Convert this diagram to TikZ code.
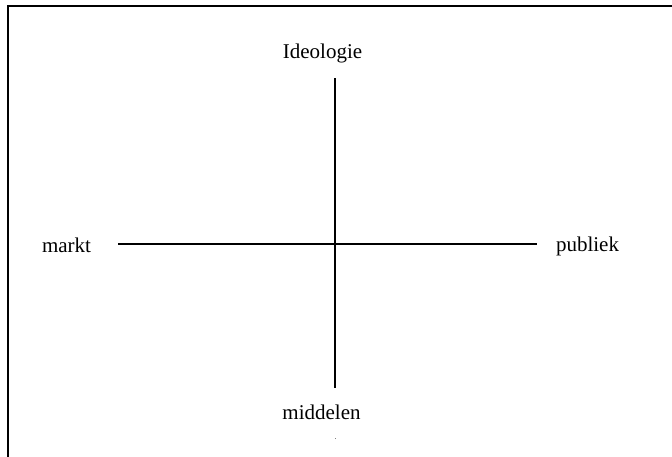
\documentclass[tikz,border=0pt]{standalone}
\usepackage{fontspec}
\setmainfont{Liberation Serif}
\begin{document}
\begin{tikzpicture}[x=1pt,y=-1pt,
  lbl/.style={anchor=base,inner sep=0pt,font=\fontsize{21}{25}\selectfont},
  axis/.style={line width=1.6pt,black},
  frame/.style={line width=1.8pt,black}]
\useasboundingbox (0,0) rectangle (672,456);
\begin{scope}
\clip (0,0) rectangle (672,456);
\draw[frame] (8,6) rectangle (690,470);
\end{scope}
\node[lbl] (ideo) at (322.5,58) {Ideologie};
\node[lbl] (midd) at (321.5,419) {middelen};
\node[lbl] (markt) at (66.5,252) {markt};
\node[lbl] (publ) at (587.5,251) {publiek};
\coordinate (vt) at (335,78);
\coordinate (vb) at (335,388);
\coordinate (hl) at (118,244);
\coordinate (hr) at (537,244);
\draw[axis] (vt) -- (vb);
\draw[axis] (hl) -- (hr);
\fill[gray] (334.5,437.5) rectangle (336,438.5);
\end{tikzpicture}
\end{document}
